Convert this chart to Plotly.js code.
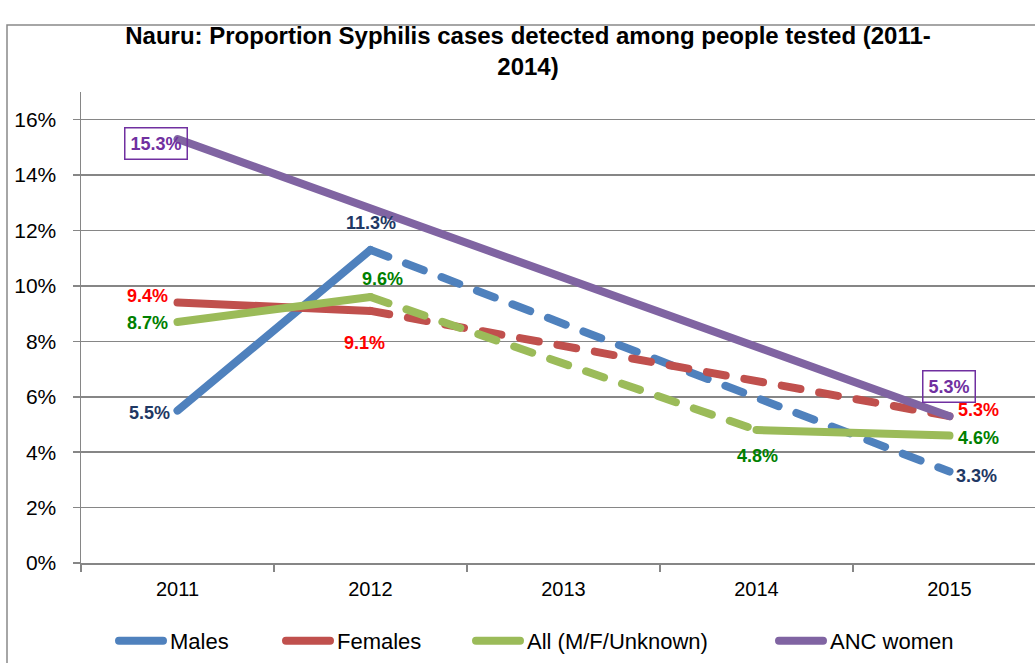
<!DOCTYPE html>
<html>
<head>
<meta charset="utf-8">
<script src="https://cdn.plot.ly/plotly-3.0.1.min.js"></script>
<style>
  html, body { margin: 0; padding: 0; background: #fff; }
  #chart { width: 1035px; height: 663px; }
  .scatterlayer .js-line { stroke-linecap: round; stroke-linejoin: round; }
  .legendlines path { stroke-linecap: round; d: path("M19,0H63"); }
</style>
</head>
<body>
<div id="chart"></div>
<script>
// ---- data ----
var years = ['2011', '2012', '2013', '2014', '2015'];
var males = [0.055, 0.113, null, null, 0.033];
var females = [0.094, 0.091, null, null, 0.053];
var allPeople = [0.087, 0.096, null, 0.048, 0.046];
var ancWomen = [0.153, null, null, null, 0.053];
var seriesNames = ['Males', 'Females', 'All (M/F/Unknown)', 'ANC women'];

// ---- styles ----
var lineColors = ['#4F81BD', '#C0504D', '#9BBB59', '#8064A2'];
var labelColors = ['#1F3864', '#FF0000', '#008000', '#7030A0'];
var gapDash = ['19px,19px', '19px,19px', '19px,19px', 'solid'];
var boxed = [false, false, false, true];
// label offsets (px) per series per point index
var labelShift = [
  {0: [-28, -2], 1: [0, 27], 4: [27, -4]},
  {0: [-30, 7], 1: [-6, -32], 4: [29, 6]},
  {0: [-30, -1], 1: [12, 18], 3: [1, -26], 4: [29, -2]},
  {0: [-22, -4], 4: [-1, 30]}
];
var legendText = [170, 337, 527, 830];

var allSeries = [males, females, allPeople, ancWomen];
var FONT = 'Liberation Sans, Arial, sans-serif';
var plotL = 81, plotR = 1035, plotT = 92, plotB = 563;
var pw = plotR - plotL, ph = plotB - plotT;
var ITEMW = 60;

var traces = [];
var annotations = [];
allSeries.forEach(function (vals, s) {
  var legendId = s === 0 ? 'legend' : 'legend' + (s + 1);
  // solid segments between consecutive values
  traces.push({
    x: years, y: vals, type: 'scatter', mode: 'lines', name: seriesNames[s],
    connectgaps: false, legend: legendId, showlegend: true,
    line: {color: lineColors[s], width: 8}, hoverinfo: 'x+y+name'
  });
  // bridging segments across missing years
  var gapVals = vals.map(function (v, i) {
    if (v === null) return null;
    var prevNull = i > 0 && vals[i - 1] === null;
    var nextNull = i < vals.length - 1 && vals[i + 1] === null;
    var earlier = vals.slice(0, i).some(function (u) { return u !== null; });
    var later = vals.slice(i + 1).some(function (u) { return u !== null; });
    return ((prevNull && earlier) || (nextNull && later)) ? v : null;
  });
  traces.push({
    x: years, y: gapVals, type: 'scatter', mode: 'lines', name: seriesNames[s],
    connectgaps: true, legend: legendId, showlegend: false,
    line: {color: lineColors[s], width: 8, dash: gapDash[s]}, hoverinfo: 'x+y+name'
  });
  // data labels (x given as category index)
  Object.keys(labelShift[s]).forEach(function (k) {
    var i = +k;
    var v = vals[i];
    if (v === null) return;
    var a = {
      x: i, y: v, xref: 'x', yref: 'y', showarrow: false,
      text: (v * 100).toFixed(1) + '%',
      font: {family: FONT, size: 18, color: labelColors[s], weight: 'bold'},
      xshift: labelShift[s][k][0], yshift: labelShift[s][k][1]
    };
    if (boxed[s]) { a.bordercolor = labelColors[s]; a.borderwidth = 1.5; a.borderpad = 5; }
    annotations.push(a);
  });
});

var layout = {
  width: 1035, height: 663,
  paper_bgcolor: '#ffffff', plot_bgcolor: '#ffffff',
  margin: {l: plotL, r: 1035 - plotR, t: plotT, b: 663 - plotB, pad: 0},
  font: {family: FONT, color: '#000000'},
  title: {
    text: 'Nauru: Proportion Syphilis cases detected among people tested (2011-<br>2014)',
    font: {family: FONT, size: 24, color: '#000000', weight: 'bold'},
    x: 528 / 1035, xanchor: 'center', xref: 'container',
    y: 1 - 44 / 663, yanchor: 'top', yref: 'container'
  },
  xaxis: {
    type: 'category', range: [-0.5, -0.5 + pw / 193],
    showgrid: false, zeroline: false, showline: true, linecolor: '#868686', linewidth: 1.5,
    ticks: 'outside', tickson: 'boundaries', ticklen: 7, tickcolor: '#868686', tickwidth: 1.5,
    tickfont: {family: FONT, size: 20, color: '#000000'}, ticklabelstandoff: 7
  },
  yaxis: {
    range: [0, 0.17], tick0: 0, dtick: 0.02, tickformat: '.0%',
    showgrid: true, gridcolor: '#868686', gridwidth: 1.5, zeroline: false,
    showline: true, linecolor: '#868686', linewidth: 1.5,
    ticks: 'outside', ticklen: 7, tickcolor: '#868686', tickwidth: 1.5,
    tickfont: {family: FONT, size: 21, color: '#000000'}, ticklabelstandoff: 12
  },
  annotations: annotations,
  shapes: [{
    type: 'rect', xref: 'paper', yref: 'paper', layer: 'below',
    x0: (7 - plotL) / pw, x1: (1040 - plotL) / pw,
    y0: (plotB - 668) / ph, y1: (plotB - 25) / ph,
    line: {color: '#898989', width: 1.5}, fillcolor: 'rgba(0,0,0,0)'
  }],
  hovermode: 'closest'
};
// one legend per series so each entry sits where the reference puts it
legendText.forEach(function (tx, s) {
  var key = s === 0 ? 'legend' : 'legend' + (s + 1);
  layout[key] = {
    orientation: 'h', x: (tx - 70 - plotL) / pw, xanchor: 'left',
    y: (plotB - 641) / ph, yanchor: 'middle', itemwidth: ITEMW,
    bgcolor: 'rgba(0,0,0,0)', borderwidth: 0,
    font: {family: FONT, size: 22, color: '#000000'}
  };
});

Plotly.newPlot('chart', traces, layout, {displayModeBar: false, staticPlot: true});
</script>
</body>
</html>
